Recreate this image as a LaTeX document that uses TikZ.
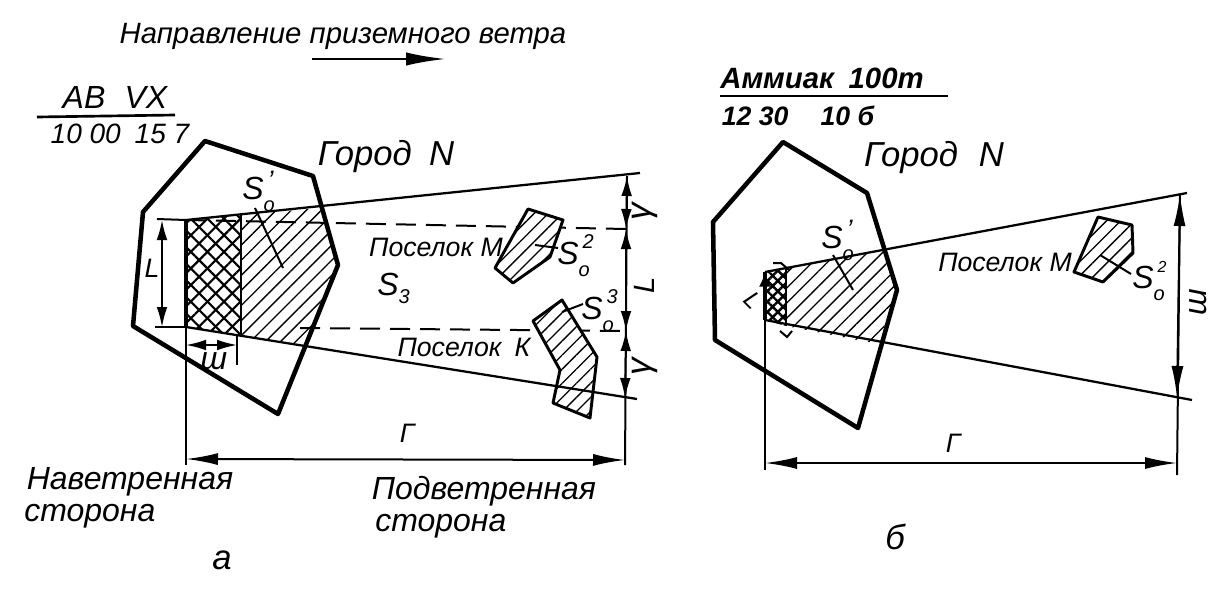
\documentclass[tikz,border=0pt]{standalone}
\usepackage{fontspec}
\setmainfont{Liberation Sans}
\usetikzlibrary{arrows.meta, patterns.meta}

\newcommand{\sarea}[3][12pt]{S\rlap{\raisebox{-9pt}{\fontsize{15}{15}\selectfont o}}\raisebox{#1}{\hspace{3pt}\fontsize{#2}{#2}\selectfont #3}}

\tikzset{
    lbl/.style={font=\itshape\fontsize{#1}{#1}\selectfont, inner sep=0pt},
    lbl/.default=20,
    blbl/.style={font=\bfseries\itshape\fontsize{#1}{#1}\selectfont, inner sep=0pt},
    slbl/.style={lbl=24, anchor=base west},
    city/.style={line width=3.4pt, line join=round},
    plume/.style={line width=1.7pt},
    thin line/.style={line width=1.5pt},
    gap line/.style={line width=1.5pt, dash pattern=on 15pt off 7.5pt},
    dim/.style={line width=1.3pt, {Latex[length=15pt,width=8pt]}-{Latex[length=15pt,width=8pt]}},
    long dim/.style={line width=1.5pt, {Latex[length=24pt,width=9pt]}-{Latex[length=24pt,width=9pt]}},
    hatch/.style={pattern={Lines[angle=45,distance=8pt,line width=1pt]}},
    cross/.style={pattern={Lines[angle=45,distance=8.8pt,line width=1.6pt]},
        postaction={pattern={Lines[angle=-45,distance=8.8pt,line width=1.6pt]}}},
    fine cross/.style={pattern={Lines[angle=45,distance=5.5pt,line width=1.8pt]},
        postaction={pattern={Lines[angle=-45,distance=5.5pt,line width=1.8pt]}}},
    settle/.style={line width=2.2pt, line join=round, preaction={fill=white},
        pattern={Lines[angle=45,distance=7.5pt,line width=1pt]}},
}

\begin{document}
\begin{tikzpicture}[x=0.75pt,y=-0.75pt]
    \useasboundingbox (0,0) rectangle (1220,592);

    % left picture
    \coordinate (a top) at (186,220);
    \coordinate (a low) at (186,327);
    \coordinate (a top end) at (640,173);
    \coordinate (a low end) at (637,399);
    \coordinate (a gamma 1) at (627,176);
    \coordinate (a dash 1) at (626,229);
    \coordinate (a dash 2) at (626,331);
    \coordinate (a gamma 2) at (625,398);
    \coordinate (a base l) at (186,459);
    \coordinate (a base r) at (625,460);

    \fill[cross] (a top) -- (241,215) -- (241,336) -- (a low) -- cycle;
    \fill[hatch] (241,215) -- (320,208) -- (338,265) -- (305,346) -- (241,336) -- cycle;
    \draw[line width=2.6pt] (a top) -- (a low);
    \draw[line width=2pt] (241,215) -- (241,336);
    \draw[gap line] (a top) -- (a dash 1);
    \draw[gap line] (300,328) -- (a dash 2);
    \draw[settle] (528,209) -- (563,220) -- (550,257) -- (513,283) -- (495,268) -- cycle;
    \draw[settle] (562,300) -- (597,357) -- (590,418) -- (553,403) -- (560,370) -- (533,321) -- cycle;
    \draw[city] (205,141) -- (313,176) -- (338,265) -- (278,414) -- (133,326) -- (143,212) -- cycle;
    \draw[plume] (a top) -- (a top end);
    \draw[plume] (a low) -- (a low end);

    \draw[thin line] (157,219) -- (a top);
    \draw[thin line] (155,327) -- (a low);
    \draw[dim] (162,220) -- (162,327);
    \draw[thin line] (a low) -- (186,465);
    \draw[thin line] (237,335) -- (237,365);
    \draw[dim] (186,345) -- (237,345);
    \draw[long dim] (a base l) -- (a base r);
    \draw[thin line] (a gamma 1) -- (625,465);
    \draw[dim] (a gamma 1) -- (a dash 1);
    \draw[dim] (a dash 1) -- (a dash 2);
    \draw[dim] (a dash 2) -- (a gamma 2);

    \draw[thin line] (535,245) -- (558,248);
    \draw[thin line] (562,312) -- (583,304);
    \draw[thin line] (255,208) -- (283,268);

    \node[lbl=22] (wind) at (343,36) {Направление приземного ветра};
    \draw[line width=2pt, -{Latex[length=30pt,width=10pt]}] (312,59) -- (446,59);
    \node[lbl=24] (ab) at (115,97) {AB\hspace{0.6em}VX};
    \draw[line width=2pt] (37,117) -- (175,115);
    \node[lbl=21] (ab num) at (120,134) {10 00\hspace{0.5em}15 7};
    \node[lbl=26] (town a) at (386,157) {Город\hspace{0.5em}N};
    \node[slbl] (so a) at (242,199) {\sarea[7pt]{20}{'}};
    \node[lbl=20] (village m) at (436,247) {Поселок М};
    \node[slbl] (s three) at (377,295) {S\raisebox{-6pt}{\fontsize{15}{15}\selectfont 3}};
    \node[slbl] (so m) at (557,264) {\sarea{15}{2}};
    \node[slbl] (so k) at (581,319) {\sarea{15}{3}};
    \node[lbl=20] (village k) at (464,347) {Поселок\hspace{0.5em}К};
    \node[lbl=20] (l a) at (152,268) {L};
    \node[lbl=24] (w a) at (214,361) {ш};
    \node[lbl=20] (g a) at (407,433) {Г};
    \node[lbl=26, rotate=90] (y a 1) at (645,212) {γ};
    \node[lbl=22, rotate=90] (l a 2) at (644,285) {L};
    \node[lbl=26, rotate=90] (y a 2) at (645,367) {γ};
    \node[lbl=24] (wind side) at (130,482) {Наветренная};
    \node[lbl=24, anchor=west] (wind side 2) at (24,516) {сторона};
    \node[lbl=24] (lee side) at (484,491) {Подветренная};
    \node[lbl=24, anchor=west] (lee side 2) at (375,526) {сторона};
    \node[lbl=26] (cap a) at (222,560) {а};

    % right picture
    \coordinate (b top) at (765,272);
    \coordinate (b low) at (765,320);
    \coordinate (b top end) at (1187,193);
    \coordinate (b low end) at (1192,400);
    \coordinate (b base l) at (765,463);
    \coordinate (b base r) at (1177,463);
    \coordinate (b m 1) at (1180,194);
    \coordinate (b m 2) at (1177,398);

    \fill[fine cross] (b top) -- (786,268) -- (786,326) -- (b low) -- cycle;
    \fill[hatch] (786,268) -- (885,250) -- (897,290) -- (878,344) -- (786,326) -- cycle;
    \draw[line width=3pt] (b top) -- (b low);
    \draw[line width=2pt] (786,268) -- (786,326);
    \draw[city] (783,142) -- (867,193) -- (897,290) -- (858,428) -- (715,340) -- (713,222) -- cycle;
    \draw[plume] (b top) -- (b top end);
    \draw[plume] (b low) -- (b low end);
    \draw[line width=1.5pt, -{Latex[length=11pt,width=9pt]}] (765,470) -- (b top);
    \draw[long dim] (b base l) -- (b base r);
    \draw[thin line] (b m 1) -- (1177,475);
    \draw[long dim] (b m 1) -- (b m 2);
    \draw[settle] (1098,217) -- (1132,225) -- (1133,253) -- (1103,282) -- (1074,272) -- cycle;
    \draw[thin line] (1100,255) -- (1131,274);
    \draw[thin line] (833,255) -- (853,290);
    \draw[line width=1.5pt] (773,263) -- (781,263) -- (789,270);
    \draw[line width=1.5pt] (780,331) -- (787,337) -- (792,331);

    \node[blbl=22] (ammonia) at (822,78) {Аммиак\hspace{0.5em}100т};
    \draw[line width=2pt] (720,96) -- (948,96);
    \node[blbl=20] (am num) at (798,116) {12 30\hspace{1.2em}10 б};
    \node[lbl=26] (town b) at (934,158) {Город\hspace{0.6em}N};
    \node[slbl] (so b) at (821,248) {\sarea[7pt]{20}{'}};
    \node[lbl=20] (village b) at (1005,262) {Поселок М};
    \node[slbl] (so c) at (1132,288) {\sarea{12}{2}};
    \node[lbl=18, rotate=-45] (l b) at (753,300) {L};
    \node[lbl=20] (g b) at (953,443) {Г};
    \node[lbl=24, rotate=90] (w b) at (1198,302) {ш};
    \node[lbl=26] (cap b) at (895,537) {б};
\end{tikzpicture}
\end{document}
